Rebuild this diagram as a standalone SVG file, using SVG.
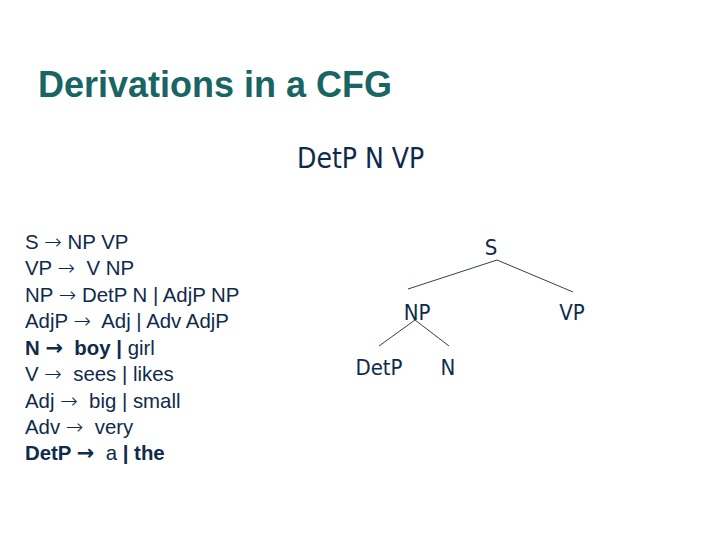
<svg xmlns="http://www.w3.org/2000/svg" width="720" height="540" viewBox="0 0 720 540">
<style>
.title{font-family:"Liberation Sans",Arial,sans-serif;font-weight:bold;font-size:36px;fill:#196564}
.rule{font-family:"Liberation Sans",Arial,sans-serif;font-size:20.4px;fill:#102a4c;white-space:pre}
.b{font-weight:bold}
.ar{font-family:"DejaVu Sans",sans-serif;font-size:21px;font-weight:200}
.ab{font-family:"DejaVu Sans",sans-serif;font-size:21px;font-weight:bold}
.tree{font-family:"DejaVu Sans Condensed","DejaVu Sans",sans-serif;font-size:22px;fill:#102a4c;text-anchor:middle}
.big{font-family:"DejaVu Sans Condensed","DejaVu Sans",sans-serif;font-size:28px;fill:#102a4c}
.edge{stroke:#1a2a3a;stroke-width:0.9;fill:none}
</style>
<rect width="720" height="540" fill="#ffffff"/>
<text class="title" x="38" y="97">Derivations in a CFG</text>
<text class="big" x="297" y="168">DetP N VP</text>
<g id="rules">
<text class="rule" x="25" y="249" xml:space="preserve">S <tspan class="ar">→</tspan> NP VP</text>
<text class="rule" x="25" y="275" xml:space="preserve">VP <tspan class="ar">→</tspan>  V NP</text>
<text class="rule" x="25" y="302" xml:space="preserve">NP <tspan class="ar">→</tspan> DetP N | AdjP NP</text>
<text class="rule" x="25" y="328" xml:space="preserve">AdjP <tspan class="ar">→</tspan>  Adj | Adv AdjP</text>
<text class="rule" x="25" y="355" xml:space="preserve"><tspan class="b">N <tspan class="ab">→</tspan>  boy | </tspan>girl</text>
<text class="rule" x="25" y="381" xml:space="preserve">V <tspan class="ar">→</tspan>  sees | likes</text>
<text class="rule" x="25" y="408" xml:space="preserve">Adj <tspan class="ar">→</tspan>  big | small</text>
<text class="rule" x="25" y="434" xml:space="preserve">Adv <tspan class="ar">→</tspan>  very</text>
<text class="rule" x="25" y="460" xml:space="preserve"><tspan class="b">DetP <tspan class="ab">→</tspan>  </tspan>a <tspan class="b">| the</tspan></text>
</g>
<g id="connectors">
<line class="edge" x1="497" y1="260" x2="408" y2="289"/>
<line class="edge" x1="497" y1="260" x2="573" y2="292"/>
<line class="edge" x1="415" y1="320" x2="379" y2="346"/>
<line class="edge" x1="415" y1="320" x2="449" y2="346"/>
</g>
<g id="node-S"><text class="tree" x="491" y="255">S</text></g>
<g id="node-NP"><text class="tree" x="417" y="320">NP</text></g>
<g id="node-VP"><text class="tree" x="572" y="320">VP</text></g>
<g id="node-DetP"><text class="tree" x="379" y="375">DetP</text></g>
<g id="node-N"><text class="tree" x="448" y="375">N</text></g>
</svg>
